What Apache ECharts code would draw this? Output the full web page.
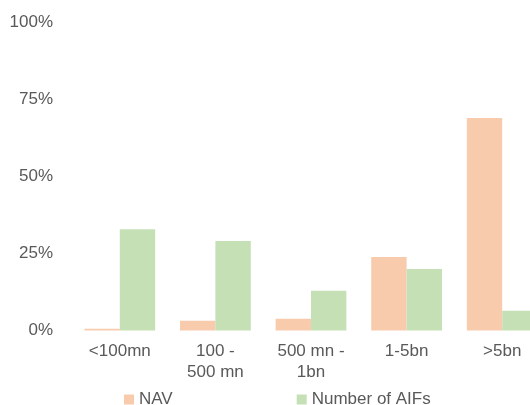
<!DOCTYPE html>
<html>
<head>
<meta charset="utf-8">
<style>
  html, body { margin: 0; padding: 0; background: #ffffff; overflow: hidden; }
  #chart { width: 530px; height: 405px; }
</style>
<script src="https://cdn.jsdelivr.net/npm/echarts@6/dist/echarts.min.js"></script>
</head>
<body>
<div id="chart"></div>
<script>
// AIF size buckets
const categories = ['<100mn', '100 -\n500 mn', '500 mn -\n1bn', '1-5bn', '>5bn'];
// Share of total NAV per bucket (%)
const navShare = [0.6, 3.2, 3.8, 23.8, 68.9];
// Share of number of AIFs per bucket (%)
const aifShare = [32.8, 29.0, 12.9, 19.9, 6.4];
const yTicks = [0, 25, 50, 75, 100];

const textColor = '#595959';
const fontFamily = '"Liberation Sans", Arial, sans-serif';

const chart = echarts.init(document.getElementById('chart'), null, { renderer: 'canvas' });
chart.setOption({
  animation: false,
  textStyle: { fontFamily: fontFamily, color: textColor },
  // plot area runs past the right edge, so the last bar is cut off
  grid: {
    left: 72, width: 478, top: 22, bottom: 74.5,
    containLabel: false,
    outerBoundsMode: 'none'
  },
  legend: {
    left: 124,
    top: 391,
    padding: 0,
    itemGap: 124,
    itemWidth: 10,
    itemHeight: 10,
    icon: 'rect',
    textStyle: { fontSize: 17, color: textColor, fontFamily: fontFamily },
    data: ['NAV', 'Number of AIFs']
  },
  xAxis: {
    type: 'category',
    data: categories,
    axisLine: { show: false },
    axisTick: { show: false },
    axisLabel: {
      interval: 0,
      margin: 10,
      fontSize: 17,
      lineHeight: 21,
      color: textColor,
      fontFamily: fontFamily
    }
  },
  yAxis: {
    type: 'value',
    min: yTicks[0],
    max: yTicks[yTicks.length - 1],
    interval: yTicks[1] - yTicks[0],
    splitLine: { show: false },
    axisLine: { show: false },
    axisTick: { show: false },
    axisLabel: {
      margin: 19,
      fontSize: 17,
      color: textColor,
      fontFamily: fontFamily,
      formatter: '{value}%'
    }
  },
  series: [
    {
      name: 'NAV',
      type: 'bar',
      data: navShare,
      barGap: '0%',
      barCategoryGap: '26%',
      itemStyle: { color: '#F8CBAD' }
    },
    {
      name: 'Number of AIFs',
      type: 'bar',
      data: aifShare,
      barGap: '0%',
      barCategoryGap: '26%',
      itemStyle: { color: '#C5E0B4' }
    }
  ]
});
</script>
</body>
</html>
